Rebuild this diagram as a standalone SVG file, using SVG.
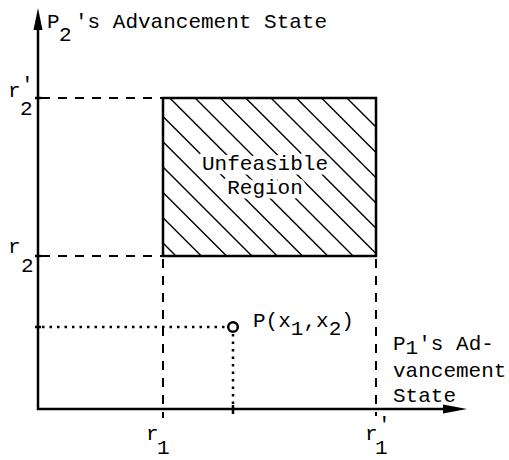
<svg xmlns="http://www.w3.org/2000/svg" width="509" height="460" viewBox="0 0 509 460">
<style>
text{font-family:"Liberation Mono","DejaVu Sans Mono",monospace;font-size:21px;fill:#000}
.ax{stroke:#000;stroke-width:2.5;fill:none}
.dash{stroke:#000;stroke-width:2;fill:none;stroke-dasharray:9 8}
.dot{stroke:#000;stroke-width:2.5;fill:none;stroke-dasharray:2.5 5}
.hatch{stroke:#000;stroke-width:1.4;fill:none}
.halo{stroke:#fff;stroke-width:9;paint-order:stroke;stroke-linejoin:round}
</style>
<defs>
<clipPath id="rc"><rect x="163" y="98" width="213" height="158"/></clipPath>
</defs>
<g id="connectors">
<path class="ax" d="M38,28 V409 H445"/>
<polygon points="38,8 33.5,30 42.5,30" fill="#000"/>
<polygon points="467,409 443,404.5 443,413.5" fill="#000"/>
<path class="dash" d="M41,98 H163"/>
<path class="dash" d="M41,256 H163"/>
<path class="dash" d="M163,259 V418"/>
<path class="dash" d="M376,259 V416"/>
<path class="dot" d="M42,327 H228"/>
<path class="dot" d="M233,334 V409"/>
<path class="ax" stroke-width="1.5" d="M35,98 H41 M35,256 H41 M35,327 H41 M233,405 V414"/>
</g>
<g id="region">
<g clip-path="url(#rc)">
<path class="hatch" d="M163,243 L376,456 M163,217.7 L376,430.7 M163,192.4 L376,405.4 M163,167.1 L376,380.1 M163,141.8 L376,354.8 M163,116.5 L376,329.5 M163,91.2 L376,304.2 M163,65.9 L376,278.9 M163,40.6 L376,253.6 M163,15.3 L376,228.3 M163,-10 L376,203 M163,-35.3 L376,177.7 M163,-60.6 L376,152.4 M163,-85.9 L376,127.1"/>
</g>
<rect x="163" y="98" width="213" height="158" fill="none" stroke="#000" stroke-width="2.5"/>
<text class="halo" x="265" y="170" text-anchor="middle">Unfeasible</text>
<text class="halo" x="265" y="194" text-anchor="middle">Region</text>
</g>
<g id="point">
<circle cx="233" cy="327" r="4.8" fill="#fff" stroke="#000" stroke-width="2.5"/>
<text x="253" y="327">P(x<tspan dy="8">1</tspan><tspan dy="-8">,x</tspan><tspan dy="8">2</tspan><tspan dy="-8">)</tspan></text>
</g>
<g id="labels">
<text x="47" y="28">P<tspan x="59" y="41">2</tspan><tspan x="75" y="28">'s Advancement State</tspan></text>
<text x="8" y="97">r</text>
<text x="21" y="91">'</text>
<text x="20" y="115">2</text>
<text x="8" y="253">r</text>
<text x="21" y="272">2</text>
<text x="146" y="440">r</text>
<text x="157" y="454">1</text>
<text x="365" y="440">r</text>
<text x="378" y="431">'</text>
<text x="375" y="454">1</text>
<text x="393" y="350">P<tspan dy="4">1</tspan><tspan dy="-4">'s Ad-</tspan></text>
<text x="393" y="377">vancement</text>
<text x="393" y="402">State</text>
</g>
</svg>
